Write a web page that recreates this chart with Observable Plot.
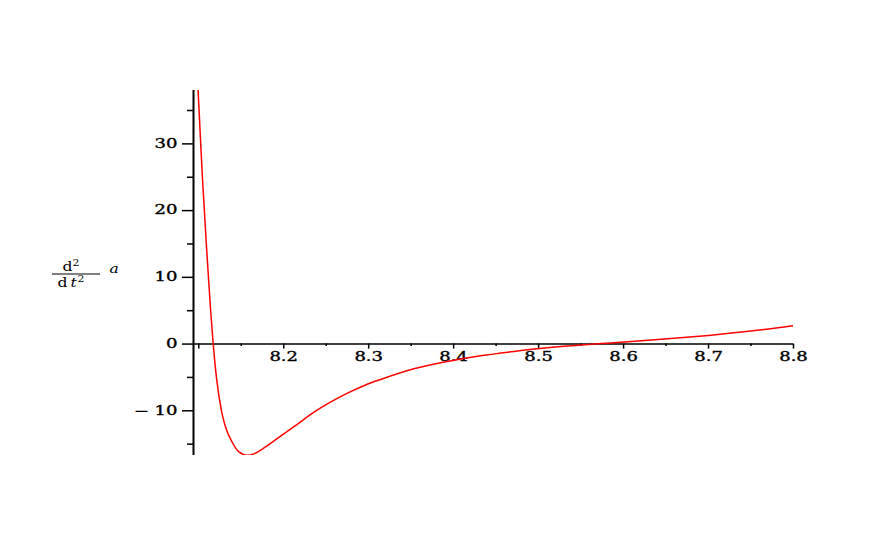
<!DOCTYPE html>
<html><head><meta charset="utf-8">
<script src="https://cdn.jsdelivr.net/npm/d3@7"></script>
<script src="https://cdn.jsdelivr.net/npm/@observablehq/plot@0.6"></script>
<style>
html,body{margin:0;padding:0;background:#fff;}
#chart svg text{font-family:"DejaVu Serif","Liberation Serif",serif;}
.xtick-label text,.ytick-label text{font-weight:normal;stroke:black;stroke-width:0.35px;}
</style></head><body><div id="chart"></div>
<script>
// curve samples: t and d²a/dt²
const tValues = [8.0992, 8.1023, 8.1043, 8.1066, 8.1089, 8.1114, 8.114, 8.117, 8.1208, 8.1267, 8.1317, 8.1395, 8.1473, 8.157, 8.165, 8.1747, 8.1942, 8.215, 8.2356, 8.255, 8.275, 8.295, 8.3141, 8.3533, 8.3926, 8.4318, 8.471, 8.5102, 8.565, 8.6, 8.652, 8.7, 8.75, 8.8];
const accValues = [38, 30, 25, 20, 15, 10, 5, 0, -5, -10, -12.5, -14.75, -16.15, -16.65, -16.45, -15.75, -14.0, -12.1, -10.2, -8.7, -7.35, -6.2, -5.3, -3.7, -2.6, -1.75, -1.1, -0.55, 0, 0.3, 0.78, 1.3, 1.95, 2.75];

const xMajorTicks = [8.1, 8.2, 8.3, 8.4, 8.5, 8.6, 8.7, 8.8];
const xMinorTicks = [8.15, 8.25, 8.35, 8.45, 8.55, 8.65, 8.75];
const xLabelTicks = [8.2, 8.3, 8.4, 8.5, 8.6, 8.7, 8.8];
const xTickLabels = ["8.2", "8.3", "8.4", "8.5", "8.6", "8.7", "8.8"];
const yMajorTicks = [-10, 0, 10, 20, 30];
const yTickLabels = ["\u2212 10", "0", "10", "20", "30"];
const yMinorTicks = [-15, -5, 5, 15, 25, 35];
const xDomain = [8.0938, 8.8];
const yDomain = [-16.7, 38];

const curve = tValues.map((t, i) => ({t, a: accValues[i]}));
const x0 = xDomain[0];

const plot = Plot.plot({
  width: 872, height: 545,
  marginLeft: 193, marginRight: 79, marginTop: 90, marginBottom: 90,
  x: {domain: xDomain, axis: null},
  y: {domain: yDomain, axis: null},
  style: {background: "white", overflow: "visible"},
  marks: [
    Plot.ruleY([0], {x1: x0, x2: xDomain[1], stroke: "black", strokeWidth: 1.5}),
    Plot.ruleX([x0], {y1: yDomain[0], y2: yDomain[1], stroke: "black", strokeWidth: 2}),
    Plot.ruleX(xMajorTicks, {x: d => d, y1: 0, y2: 0, insetBottom: -5, stroke: "black", strokeWidth: 1.5}),
    Plot.ruleX(xMinorTicks, {x: d => d, y1: 0, y2: 0, insetBottom: -2.5, stroke: "black", strokeWidth: 1.5}),
    Plot.ruleY(yMajorTicks, {y: d => d, x1: x0, x2: x0, insetLeft: -11, stroke: "black", strokeWidth: 1.5}),
    Plot.ruleY(yMinorTicks, {y: d => d, x1: x0, x2: x0, insetLeft: -6, stroke: "black", strokeWidth: 1.5}),
    Plot.text(xLabelTicks, {x: d => d, y: 0, text: (d, i) => xTickLabels[i], dy: 13, fontSize: 12, fill: "black", className: "xtick-label"}),
    Plot.text(yMajorTicks, {x: x0, y: d => d, text: (d, i) => yTickLabels[i], textAnchor: "end", dx: -16, fontSize: 12, fill: "black", className: "ytick-label"}),
    Plot.line(curve, {x: "t", y: "a", stroke: "#ff0000", strokeWidth: 1.5, curve: "monotone-x", clip: true}),
    // y-axis label: d²/dt² a
    Plot.text(["d"], {frameAnchor: "left", dx: -131, dy: -6, textAnchor: "start", fontSize: 13, fill: "black", className: "axis-label"}),
    Plot.text(["2"], {frameAnchor: "left", dx: -121, dy: -10, textAnchor: "start", fontSize: 9, fill: "black", className: "axis-label"}),
    Plot.text(["d"], {frameAnchor: "left", dx: -136, dy: 10, textAnchor: "start", fontSize: 13, fill: "black", className: "axis-label"}),
    Plot.text(["t"], {frameAnchor: "left", dx: -123, dy: 10, textAnchor: "start", fontSize: 13, fontStyle: "italic", fill: "black", className: "axis-label"}),
    Plot.text(["2"], {frameAnchor: "left", dx: -116, dy: 6, textAnchor: "start", fontSize: 9, fill: "black", className: "axis-label"}),
    Plot.text(["a"], {frameAnchor: "left", dx: -84, dy: -4, textAnchor: "start", fontSize: 13, fontStyle: "italic", fill: "black", className: "axis-label"})
  ]
});

// fraction bar of the axis label
const svg = d3.select(plot);
svg.append("line")
  .attr("x1", 52).attr("x2", 100)
  .attr("y1", 274).attr("y2", 274)
  .attr("stroke", "black").attr("stroke-width", 1);

document.getElementById("chart").appendChild(plot);

// widen the tick labels like the reference's stretched serif glyphs
svg.selectAll(".xtick-label text, .ytick-label text").each(function () {
  const w = this.getComputedTextLength();
  this.setAttribute("textLength", (w * 1.5).toFixed(1));
  this.setAttribute("lengthAdjust", "spacingAndGlyphs");
});
svg.selectAll(".axis-label text").each(function () {
  const w = this.getComputedTextLength();
  this.setAttribute("textLength", (w * 1.2).toFixed(1));
  this.setAttribute("lengthAdjust", "spacingAndGlyphs");
});
</script></body></html>
